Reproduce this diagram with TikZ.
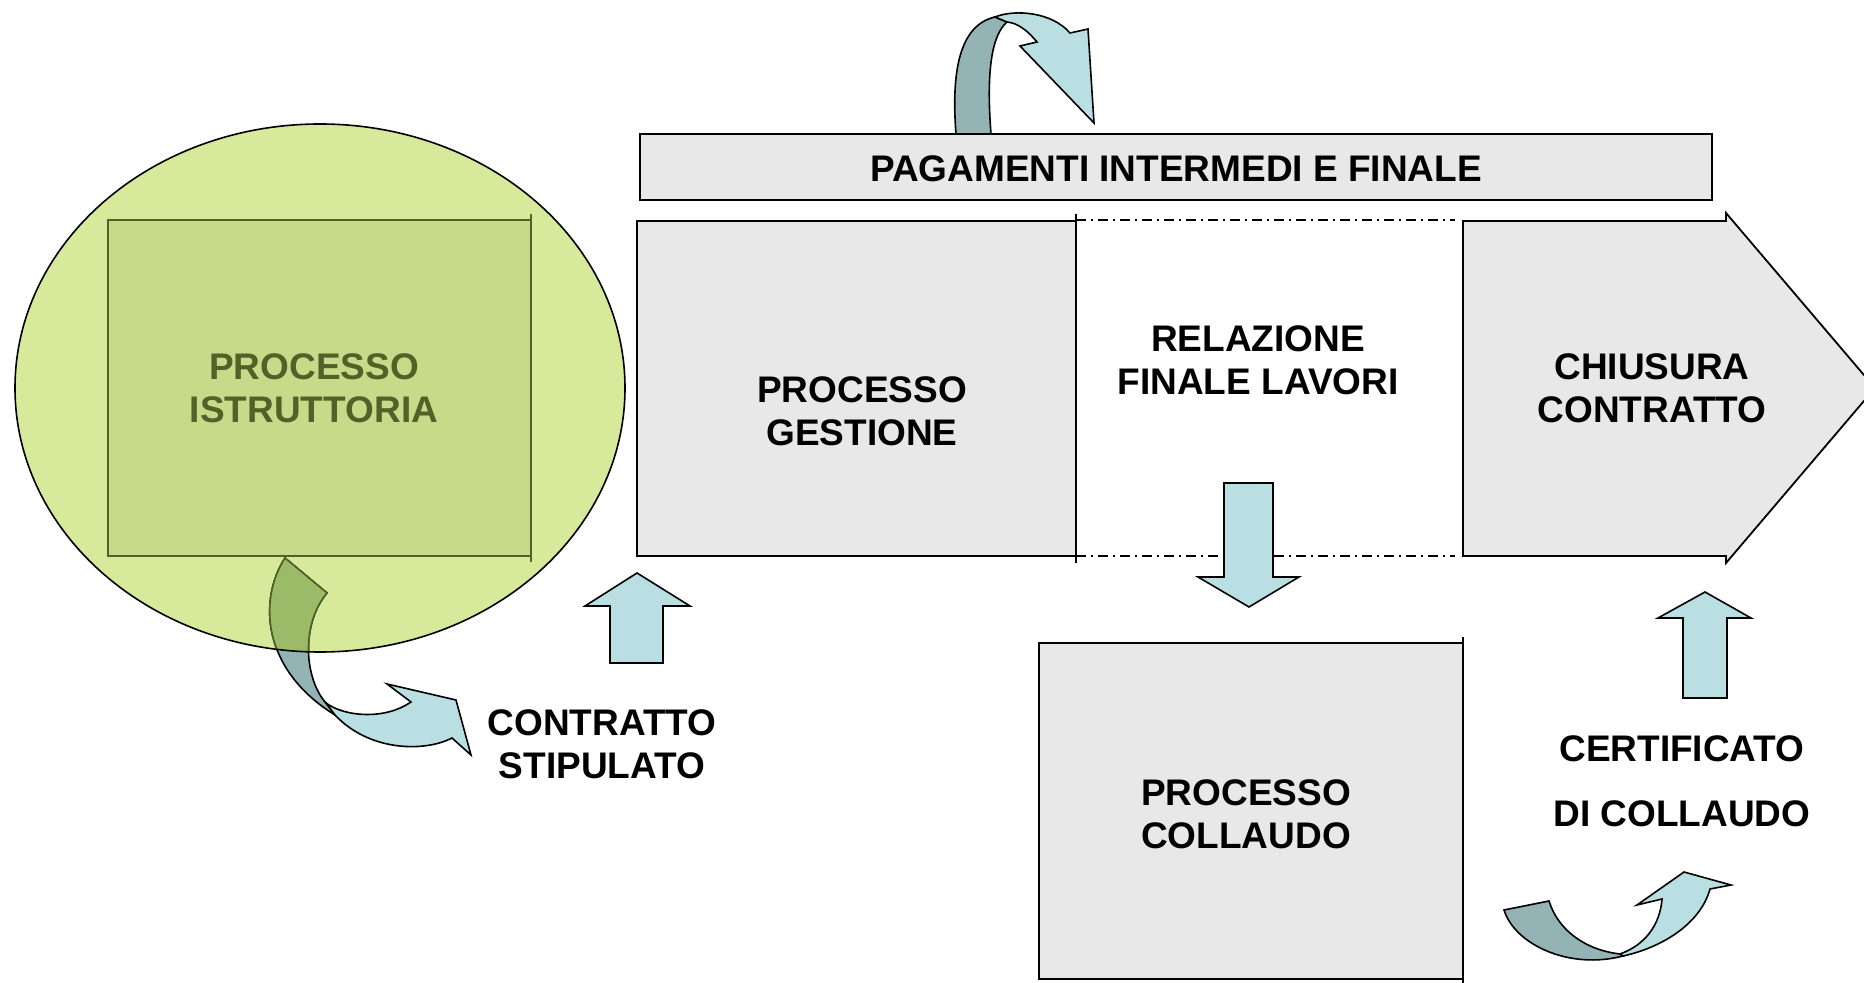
\documentclass[tikz,border=0pt]{standalone}
\usepackage{fontspec}
\setmainfont{Liberation Sans}
\definecolor{boxgrey}{RGB}{232,232,232}
\definecolor{lightblue}{RGB}{185,223,226}
\definecolor{darkteal}{RGB}{147,179,181}
\definecolor{ellfill}{RGB}{215,233,155}
\definecolor{rectfill}{RGB}{197,219,138}
\definecolor{olivedark}{RGB}{79,98,40}
\definecolor{greenarrow}{RGB}{155,187,104}
\tikzset{
  lbl/.style={font=\fontsize{18.5}{21.5}\selectfont\bfseries, align=center, inner sep=0pt},
  greybox/.style={draw=black, fill=boxgrey, line width=0.9pt},
  blockarrow/.style={draw=black, fill=lightblue, line width=0.8pt, line join=miter},
  backband/.style={draw=black, fill=darkteal, line width=0.8pt},
  dashdot/.style={line width=0.7pt, dash pattern=on 5pt off 2.5pt on 1pt off 2.5pt}
}
\begin{document}
\begin{tikzpicture}[x=0.5pt,y=-0.5pt]
\useasboundingbox (0,0) rectangle (1864,983);
\clip (0,0) rectangle (1864,983);

% ---------- ellipse with istruttoria ----------
\fill[ellfill] (320,388) ellipse [x radius=152.5pt, y radius=132pt];
\draw[fill=rectfill, draw=olivedark, line width=0.8pt] (108,220) rectangle (531,556);
\draw[olivedark, line width=0.9pt] (531,214) -- (531,562);
\node[lbl, text=olivedark] (istr) at (314,388) {PROCESSO\\ISTRUTTORIA};

% curved arrow bottom-left: back band
\path[backband] (285,558) .. controls (258,600) and (262,670) .. (335,715)
  -- (326,703) .. controls (305,680) and (300,625) .. (327,593) -- cycle;
\begin{scope}
  \clip (320,388) ellipse [x radius=152.5pt, y radius=132pt];
  \path[draw=olivedark, fill=greenarrow, line width=0.8pt] (285,558) .. controls (258,600) and (262,670) .. (335,715)
    -- (326,703) .. controls (305,680) and (300,625) .. (327,593) -- cycle;
\end{scope}
% front part
\path[blockarrow] (326,703) .. controls (345,717) and (385,720) .. (411,702)
  -- (387,684) -- (456,700) -- (471,755) -- (452,738)
  .. controls (425,752) and (370,752) .. (335,715) -- cycle;
\draw[line width=0.8pt] (320,388) ellipse [x radius=152.5pt, y radius=132pt];

% ---------- top bar ----------
\draw[greybox] (640,134) rectangle (1712,200);
\node[lbl] (pag) at (1176,169) {PAGAMENTI INTERMEDI E FINALE};

% top curved arrow
\path[backband] (956,134) .. controls (951,70) and (960,25) .. (995,17)
  -- (1007,22) .. controls (992,35) and (986,70) .. (991,134) -- cycle;
\path[blockarrow] (995,17) .. controls (1015,9) and (1052,12) .. (1070,33)
  -- (1088,29) -- (1094,123) -- (1020,46) -- (1037,42)
  .. controls (1028,31) and (1018,23) .. (1007,22) -- cycle;

% ---------- gestione ----------
\draw[greybox] (637,221) rectangle (1076,556);
\draw[line width=0.9pt] (1076,214) -- (1076,563);
\node[lbl] (gest) at (862,411) {PROCESSO\\GESTIONE};

% relazione finale lavori
\draw[dashdot] (1076,220) -- (1455,220);
\draw[dashdot] (1076,556) -- (1455,556);
\node[lbl] (rel) at (1258,360) {RELAZIONE\\FINALE LAVORI};

% down arrow
\path[blockarrow] (1224,483) -- (1273,483) -- (1273,577) -- (1299,577) -- (1249,607) -- (1198,577) -- (1224,577) -- cycle;

% ---------- chiusura ----------
\path[greybox, line join=miter] (1463,221) -- (1726,221) -- (1726,213) -- (1875,388) -- (1726,563) -- (1726,556) -- (1463,556) -- cycle;
\node[lbl] (chius) at (1652,388) {CHIUSURA\\CONTRATTO};

% ---------- collaudo ----------
\draw[greybox] (1039,643) rectangle (1463,979);
\draw[line width=0.9pt] (1463,637) -- (1463,990);
\node[lbl] (coll) at (1246,814) {PROCESSO\\COLLAUDO};

% up arrow left
\path[blockarrow] (610,663) -- (663,663) -- (663,606) -- (690,606) -- (637,573) -- (585,606) -- (610,606) -- cycle;
\node[lbl] (stip) at (602,744) {CONTRATTO\\STIPULATO};

% up arrow right
\path[blockarrow] (1683,698) -- (1727,698) -- (1727,618) -- (1751,618) -- (1705,592) -- (1658,618) -- (1683,618) -- cycle;
\node[lbl] (cert) at (1682,781) {CERTIFICATO\\[11pt]DI COLLAUDO};

% bottom-right curved arrow
\path[backband] (1504,910) -- (1549,901) .. controls (1558,930) and (1585,950) .. (1620,954)
  -- (1623,956) .. controls (1570,970) and (1515,945) .. (1504,910) -- cycle;
\path[blockarrow] (1623,956) .. controls (1660,948) and (1700,925) .. (1710,889)
  -- (1731,885) -- (1684,872) -- (1637,905) -- (1662,899)
  .. controls (1660,925) and (1645,945) .. (1620,954) -- cycle;
\end{tikzpicture}
\end{document}
